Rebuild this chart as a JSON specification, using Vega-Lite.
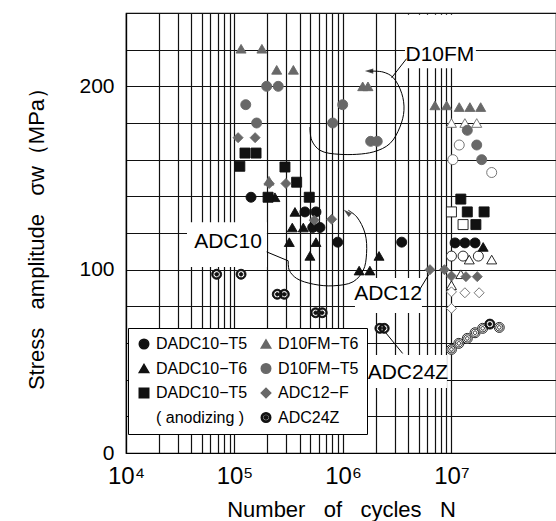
{
  "$schema": "https://vega.github.io/schema/vega-lite/v6.json",
  "width": 430,
  "height": 440,
  "autosize": {"type": "none"},
  "padding": {"left": 126, "top": 13, "right": 0, "bottom": 68},
  "background": "white",
  "config": {
    "font": "Liberation Sans",
    "view": {"stroke": "black", "strokeWidth": 1.2, "fill": "white"}
  },
  "datasets": {
    "points": [
      {"series": "DADC10-T5", "N": 142000, "MPa": 139.5, "runout": false},
      {"series": "DADC10-T5", "N": 446000, "MPa": 131.5, "runout": false},
      {"series": "DADC10-T5", "N": 564000, "MPa": 131.5, "runout": false},
      {"series": "DADC10-T5", "N": 526000, "MPa": 123, "runout": false},
      {"series": "DADC10-T5", "N": 614000, "MPa": 123, "runout": false},
      {"series": "DADC10-T5", "N": 894000, "MPa": 115, "runout": false},
      {"series": "DADC10-T5", "N": 3480000, "MPa": 115, "runout": false},
      {"series": "DADC10-T5", "N": 10800000, "MPa": 114.6, "runout": false},
      {"series": "DADC10-T5", "N": 13300000, "MPa": 114.6, "runout": false},
      {"series": "DADC10-T5", "N": 16500000, "MPa": 114.6, "runout": false},
      {"series": "DADC10-T5", "N": 10000000, "MPa": 107.4, "runout": true},
      {"series": "DADC10-T5", "N": 12800000, "MPa": 107.4, "runout": true},
      {"series": "DADC10-T5", "N": 17700000, "MPa": 107.4, "runout": true},

      {"series": "DADC10-T6", "N": 236000, "MPa": 139.5, "runout": false},
      {"series": "DADC10-T6", "N": 361000, "MPa": 131.5, "runout": false},
      {"series": "DADC10-T6", "N": 341000, "MPa": 123, "runout": false},
      {"series": "DADC10-T6", "N": 431000, "MPa": 123, "runout": false},
      {"series": "DADC10-T6", "N": 320000, "MPa": 115, "runout": false},
      {"series": "DADC10-T6", "N": 564000, "MPa": 115, "runout": false},
      {"series": "DADC10-T6", "N": 496000, "MPa": 107.5, "runout": false},
      {"series": "DADC10-T6", "N": 2150000, "MPa": 107.5, "runout": false},
      {"series": "DADC10-T6", "N": 1410000, "MPa": 99.5, "runout": false},
      {"series": "DADC10-T6", "N": 1770000, "MPa": 99.5, "runout": false},
      {"series": "DADC10-T6", "N": 19600000, "MPa": 112.4, "runout": false},
      {"series": "DADC10-T6", "N": 14600000, "MPa": 105.5, "runout": true},
      {"series": "DADC10-T6", "N": 23500000, "MPa": 105.5, "runout": true},
      {"series": "DADC10-T6", "N": 12200000, "MPa": 97.5, "runout": true},
      {"series": "DADC10-T6", "N": 10000000, "MPa": 91.5, "runout": true},

      {"series": "DADC10-T5a", "N": 125000, "MPa": 163.6, "runout": false},
      {"series": "DADC10-T5a", "N": 158000, "MPa": 163.6, "runout": false},
      {"series": "DADC10-T5a", "N": 112000, "MPa": 156.4, "runout": false},
      {"series": "DADC10-T5a", "N": 292000, "MPa": 156, "runout": false},
      {"series": "DADC10-T5a", "N": 374000, "MPa": 147.7, "runout": false},
      {"series": "DADC10-T5a", "N": 489000, "MPa": 139.5, "runout": false},
      {"series": "DADC10-T5a", "N": 204000, "MPa": 139.5, "runout": false},
      {"series": "DADC10-T5a", "N": 12200000, "MPa": 138.5, "runout": false},
      {"series": "DADC10-T5a", "N": 14000000, "MPa": 131.5, "runout": false},
      {"series": "DADC10-T5a", "N": 20000000, "MPa": 131.5, "runout": false},
      {"series": "DADC10-T5a", "N": 16800000, "MPa": 124.6, "runout": false},
      {"series": "DADC10-T5a", "N": 10000000, "MPa": 131.5, "runout": true},
      {"series": "DADC10-T5a", "N": 12800000, "MPa": 124.6, "runout": true},

      {"series": "D10FM-T6", "N": 115000, "MPa": 220.5, "runout": false},
      {"series": "D10FM-T6", "N": 179000, "MPa": 220.5, "runout": false},
      {"series": "D10FM-T6", "N": 245000, "MPa": 209, "runout": false},
      {"series": "D10FM-T6", "N": 349000, "MPa": 209, "runout": false},
      {"series": "D10FM-T6", "N": 1520000, "MPa": 200, "runout": false},
      {"series": "D10FM-T6", "N": 1700000, "MPa": 200, "runout": false},
      {"series": "D10FM-T6", "N": 7050000, "MPa": 189.6, "runout": false},
      {"series": "D10FM-T6", "N": 9030000, "MPa": 189.6, "runout": false},
      {"series": "D10FM-T6", "N": 11800000, "MPa": 188.7, "runout": false},
      {"series": "D10FM-T6", "N": 14800000, "MPa": 188.7, "runout": false},
      {"series": "D10FM-T6", "N": 18600000, "MPa": 188.7, "runout": false},
      {"series": "D10FM-T6", "N": 208000, "MPa": 148.5, "runout": false},
      {"series": "D10FM-T6", "N": 10000000, "MPa": 180, "runout": true},
      {"series": "D10FM-T6", "N": 13300000, "MPa": 180, "runout": true},
      {"series": "D10FM-T6", "N": 17100000, "MPa": 180, "runout": true},

      {"series": "D10FM-T5", "N": 198000, "MPa": 200, "runout": false},
      {"series": "D10FM-T5", "N": 253000, "MPa": 200, "runout": false},
      {"series": "D10FM-T5", "N": 127000, "MPa": 190, "runout": false},
      {"series": "D10FM-T5", "N": 160000, "MPa": 180, "runout": false},
      {"series": "D10FM-T5", "N": 994000, "MPa": 190, "runout": false},
      {"series": "D10FM-T5", "N": 804000, "MPa": 180, "runout": false},
      {"series": "D10FM-T5", "N": 1800000, "MPa": 170, "runout": false},
      {"series": "D10FM-T5", "N": 2070000, "MPa": 170, "runout": false},
      {"series": "D10FM-T5", "N": 14000000, "MPa": 176, "runout": false},
      {"series": "D10FM-T5", "N": 17100000, "MPa": 168, "runout": false},
      {"series": "D10FM-T5", "N": 19000000, "MPa": 160, "runout": false},
      {"series": "D10FM-T5", "N": 11800000, "MPa": 168, "runout": true},
      {"series": "D10FM-T5", "N": 10300000, "MPa": 160, "runout": true},
      {"series": "D10FM-T5", "N": 23500000, "MPa": 153, "runout": true},

      {"series": "ADC12-F", "N": 108000, "MPa": 172, "runout": false},
      {"series": "ADC12-F", "N": 155000, "MPa": 172, "runout": false},
      {"series": "ADC12-F", "N": 209000, "MPa": 147, "runout": false},
      {"series": "ADC12-F", "N": 298000, "MPa": 147, "runout": false},
      {"series": "ADC12-F", "N": 544000, "MPa": 127, "runout": false},
      {"series": "ADC12-F", "N": 787000, "MPa": 127.5, "runout": false},
      {"series": "ADC12-F", "N": 6340000, "MPa": 100, "runout": false},
      {"series": "ADC12-F", "N": 8620000, "MPa": 100, "runout": false},
      {"series": "ADC12-F", "N": 10000000, "MPa": 96.5, "runout": false},
      {"series": "ADC12-F", "N": 13600000, "MPa": 96.2, "runout": false},
      {"series": "ADC12-F", "N": 17300000, "MPa": 96.2, "runout": false},
      {"series": "ADC12-F", "N": 10000000, "MPa": 87.9, "runout": true},
      {"series": "ADC12-F", "N": 13300000, "MPa": 87.4, "runout": true},
      {"series": "ADC12-F", "N": 18000000, "MPa": 87.4, "runout": true},
      {"series": "ADC12-F", "N": 10000000, "MPa": 78.9, "runout": true},

      {"series": "ADC24Z", "N": 68500, "MPa": 97.5, "runout": false},
      {"series": "ADC24Z", "N": 115000, "MPa": 97.5, "runout": false},
      {"series": "ADC24Z", "N": 248000, "MPa": 86.6, "runout": false},
      {"series": "ADC24Z", "N": 288000, "MPa": 86.6, "runout": false},
      {"series": "ADC24Z", "N": 560000, "MPa": 76.5, "runout": false},
      {"series": "ADC24Z", "N": 644000, "MPa": 76.5, "runout": false},
      {"series": "ADC24Z", "N": 2190000, "MPa": 68, "runout": false},
      {"series": "ADC24Z", "N": 2400000, "MPa": 68, "runout": false},
      {"series": "ADC24Z", "N": 10000000, "MPa": 56.5, "runout": true},
      {"series": "ADC24Z", "N": 11700000, "MPa": 59.8, "runout": true},
      {"series": "ADC24Z", "N": 14000000, "MPa": 62.5, "runout": true},
      {"series": "ADC24Z", "N": 16500000, "MPa": 65.6, "runout": true},
      {"series": "ADC24Z", "N": 19400000, "MPa": 68, "runout": true},
      {"series": "ADC24Z", "N": 22600000, "MPa": 70.3, "runout": false},
      {"series": "ADC24Z", "N": 27600000, "MPa": 68.5, "runout": true}
    ],
    "boxes": [
      {"label": "D10FM", "N": 3730000, "N2": 16800000, "MPa": 239, "MPa2": 209.8, "tN": 7830000, "tMPa": 216.9},
      {"label": "ADC10", "N": 36500, "N2": 199000, "MPa": 125.9, "MPa2": 101.4, "tN": 87100, "tMPa": 115},
      {"label": "ADC12", "N": 1290000, "N2": 5350000, "MPa": 95.4, "MPa2": 76.3, "tN": 2600000, "tMPa": 86.6},
      {"label": "ADC24Z", "N": 1700000, "N2": 9090000, "MPa": 53.4, "MPa2": 35.4, "tN": 3970000, "tMPa": 43.6}
    ],
    "curves": [
      {"curve": "d10fm-leader", "i": 0, "N": 3860000, "MPa": 215.1},
      {"curve": "d10fm-leader", "i": 1, "N": 2810000, "MPa": 204.7},
      {"curve": "d10fm-loop", "i": 0, "N": 1770000, "MPa": 208.3},
      {"curve": "d10fm-loop", "i": 1, "N": 2340000, "MPa": 207.8},
      {"curve": "d10fm-loop", "i": 2, "N": 2890000, "MPa": 204.9},
      {"curve": "d10fm-loop", "i": 3, "N": 3480000, "MPa": 196.2},
      {"curve": "d10fm-loop", "i": 4, "N": 3650000, "MPa": 186.9},
      {"curve": "d10fm-loop", "i": 5, "N": 3350000, "MPa": 177.8},
      {"curve": "d10fm-loop", "i": 6, "N": 2710000, "MPa": 168.8},
      {"curve": "d10fm-loop", "i": 7, "N": 1900000, "MPa": 164.2},
      {"curve": "d10fm-loop", "i": 8, "N": 938000, "MPa": 162.9},
      {"curve": "d10fm-loop", "i": 9, "N": 614000, "MPa": 165.1},
      {"curve": "d10fm-loop", "i": 10, "N": 515000, "MPa": 170.6},
      {"curve": "d10fm-loop", "i": 11, "N": 496000, "MPa": 177.8},
      {"curve": "adc10-leader", "i": 0, "N": 198000, "MPa": 109.7},
      {"curve": "adc10-leader", "i": 1, "N": 313000, "MPa": 104.8},
      {"curve": "adc10-loop", "i": 0, "N": 313000, "MPa": 104.8},
      {"curve": "adc10-loop", "i": 1, "N": 320000, "MPa": 99.7},
      {"curve": "adc10-loop", "i": 2, "N": 374000, "MPa": 95.2},
      {"curve": "adc10-loop", "i": 3, "N": 533000, "MPa": 92.1},
      {"curve": "adc10-loop", "i": 4, "N": 814000, "MPa": 91.2},
      {"curve": "adc10-loop", "i": 5, "N": 1240000, "MPa": 93.4},
      {"curve": "adc10-loop", "i": 6, "N": 1540000, "MPa": 99.7},
      {"curve": "adc10-loop", "i": 7, "N": 1650000, "MPa": 108.8},
      {"curve": "adc10-loop", "i": 8, "N": 1600000, "MPa": 119.7},
      {"curve": "adc10-loop", "i": 9, "N": 1340000, "MPa": 128.8},
      {"curve": "adc10-loop", "i": 10, "N": 1120000, "MPa": 132.4},
      {"curve": "adc12-leader", "i": 0, "N": 5120000, "MPa": 89.4},
      {"curve": "adc12-leader", "i": 1, "N": 6210000, "MPa": 97.5},
      {"curve": "adc24z-leader", "i": 0, "N": 2440000, "MPa": 66.1},
      {"curve": "adc24z-leader", "i": 1, "N": 3550000, "MPa": 54.3}
    ],
    "arrows": [
      {"name": "D10FM", "N": 1740000, "MPa": 208.3},
      {"name": "ADC10", "N": 1090000, "MPa": 131.2}
    ]
  },
  "encoding": {
    "x": {
      "field": "N",
      "type": "quantitative",
      "scale": {"type": "log", "domain": [10000, 92000000], "nice": false},
      "axis": {
        "title": "Number\u00a0\u00a0\u00a0of\u00a0\u00a0\u00a0cycles\u00a0\u00a0\u00a0N",
        "values": [10000, 20000, 30000, 40000, 50000, 60000, 70000, 80000, 90000, 100000, 200000, 300000, 400000, 500000, 600000, 700000, 800000, 900000, 1000000, 2000000, 3000000, 4000000, 5000000, 6000000, 7000000, 8000000, 9000000, 10000000],
        "labelExpr": "datum.value == 10000 ? '10⁴' : datum.value == 100000 ? '10⁵' : datum.value == 1000000 ? '10⁶' : datum.value == 10000000 ? '10⁷' : ''",
        "grid": true,
        "gridColor": "#111",
        "gridOpacity": 1,
        "gridWidth": 1.2,
        "ticks": false,
        "domainColor": "black",
        "domainWidth": 1.2,
        "labelFontSize": 24,
        "labelColor": "black",
        "labelPadding": 11,
        "labelFlush": false,
        "labelOverlap": false,
        "titleFontSize": 22,
        "titleFontWeight": "normal",
        "titleColor": "black",
        "titlePadding": 11
      }
    },
    "y": {
      "field": "MPa",
      "type": "quantitative",
      "scale": {"domain": [0, 240], "nice": false},
      "axis": {
        "title": "Stress\u00a0\u00a0\u00a0amplitude\u00a0\u00a0\u00a0σw（MPa）",
        "values": [0, 20, 40, 60, 80, 100, 120, 140, 160, 180, 200, 220, 240],
        "labelExpr": "datum.value % 100 == 0 ? datum.label : ''",
        "grid": true,
        "gridColor": "#111",
        "gridOpacity": 1,
        "gridWidth": 1.2,
        "ticks": false,
        "domainColor": "black",
        "domainWidth": 1.2,
        "labelFontSize": 21,
        "labelColor": "black",
        "labelPadding": 12,
        "labelFlush": false,
        "labelOverlap": false,
        "titleFontSize": 22,
        "titleFontWeight": "normal",
        "titleColor": "black",
        "titlePadding": 30
      }
    }
  },
  "layer": [
    {
      "data": {"name": "boxes"},
      "mark": {"type": "rect", "fill": "white", "stroke": null},
      "encoding": {"x2": {"field": "N2"}, "y2": {"field": "MPa2"}}
    },
    {
      "data": {"name": "curves"},
      "mark": {"type": "line", "color": "black", "strokeWidth": 1, "interpolate": "catmull-rom"},
      "encoding": {"detail": {"field": "curve"}, "order": {"field": "i", "type": "quantitative"}}
    },
    {
      "data": {"name": "arrows"},
      "transform": [{"filter": "datum.name == 'D10FM'"}],
      "mark": {"type": "point", "shape": "M0,-1L0.6,1L-0.6,1Z", "filled": true, "color": "black", "size": 70, "angle": 270},
      "encoding": {}
    },
    {
      "data": {"name": "arrows"},
      "transform": [{"filter": "datum.name == 'ADC10'"}],
      "mark": {"type": "point", "shape": "M0,-1L0.6,1L-0.6,1Z", "filled": true, "color": "black", "size": 70, "angle": 309},
      "encoding": {}
    },
    {
      "data": {"name": "points"},
      "transform": [{"filter": "datum.series == 'ADC24Z'"}],
      "mark": {"type": "point", "shape": "circle", "filled": true, "color": "white", "size": 100},
      "encoding": {}
    },
    {
      "data": {"name": "points"},
      "mark": {"type": "point", "filled": true, "size": 100, "strokeWidth": 0.9, "opacity": 1},
      "encoding": {
        "shape": {
          "field": "series",
          "type": "nominal",
          "scale": {
            "domain": ["DADC10-T5", "DADC10-T6", "DADC10-T5a", "blank", "D10FM-T6", "D10FM-T5", "ADC12-F", "ADC24Z"],
            "range": ["circle", "triangle-up", "square", "circle", "triangle-up", "circle", "diamond", "M-1,0A1,1,0,1,1,1,0A1,1,0,1,1,-1,0ZM-0.72,0A0.72,0.72,0,1,0,0.72,0A0.72,0.72,0,1,0,-0.72,0ZM-0.36,0A0.36,0.36,0,1,1,0.36,0A0.36,0.36,0,1,1,-0.36,0Z"]
          },
          "legend": {
            "title": null,
            "orient": "none",
            "legendX": 2,
            "legendY": 315,
            "columns": 2,
            "columnPadding": 10,
            "rowPadding": 8.5,
            "padding": 8,
            "labelOffset": 4,
            "strokeColor": "black",
            "fillColor": "white",
            "labelFontSize": 16,
            "labelColor": "black",
            "labelFont": "Liberation Sans",
            "symbolSize": 90,
            "labelExpr": "datum.label == 'DADC10-T5a' ? 'DADC10−T5' : datum.label == 'blank' ? '( anodizing )' : replace(datum.label, '-', '−')"
          }
        },
        "color": {
          "condition": {"test": "datum.runout", "value": "white"},
          "field": "series",
          "type": "nominal",
          "scale": {
            "domain": ["DADC10-T5", "DADC10-T6", "DADC10-T5a", "blank", "D10FM-T6", "D10FM-T5", "ADC12-F", "ADC24Z"],
            "range": ["#111111", "#111111", "#111111", "rgba(0,0,0,0)", "#686868", "#686868", "#686868", "#111111"]
          },
          "legend": {
            "title": null,
            "orient": "none",
            "legendX": 2,
            "legendY": 315,
            "columns": 2,
            "columnPadding": 10,
            "rowPadding": 8.5,
            "padding": 8,
            "labelOffset": 4,
            "strokeColor": "black",
            "fillColor": "white",
            "labelFontSize": 16,
            "labelColor": "black",
            "labelFont": "Liberation Sans",
            "symbolSize": 90,
            "labelExpr": "datum.label == 'DADC10-T5a' ? 'DADC10−T5' : datum.label == 'blank' ? '( anodizing )' : replace(datum.label, '-', '−')"
          }
        },
        "stroke": {
          "field": "series",
          "type": "nominal",
          "scale": {
            "domain": ["DADC10-T5", "DADC10-T6", "DADC10-T5a", "blank", "D10FM-T6", "D10FM-T5", "ADC12-F", "ADC24Z"],
            "range": ["#111111", "#111111", "#111111", "rgba(0,0,0,0)", "#686868", "#686868", "#686868", "#111111"]
          },
          "legend": null
        }
      }
    },
    {
      "data": {"name": "boxes"},
      "mark": {"type": "text", "fontSize": 21, "color": "black", "font": "Liberation Sans", "baseline": "middle", "align": "center"},
      "encoding": {
        "x": {"field": "tN", "type": "quantitative"},
        "y": {"field": "tMPa", "type": "quantitative"},
        "text": {"field": "label"}
      }
    }
  ]
}
